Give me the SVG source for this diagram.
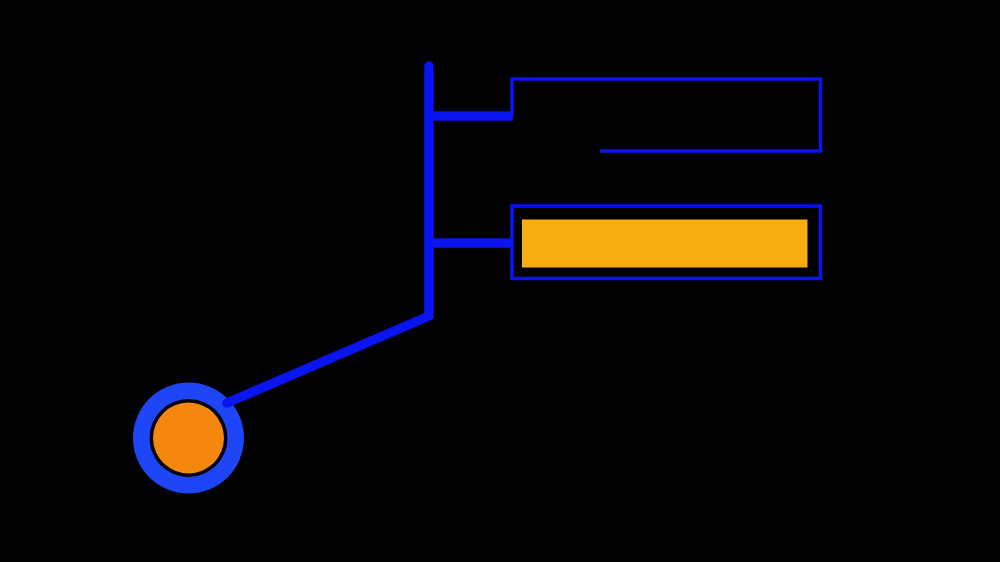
<svg xmlns="http://www.w3.org/2000/svg" width="1000" height="562" viewBox="0 0 1000 562">
  <style>
    .trunk { fill: none; stroke: #0A14F0; stroke-width: 9.5; stroke-linecap: round; stroke-linejoin: round; }
    .branch { fill: none; stroke: #0A14F0; stroke-width: 9.5; stroke-linecap: butt; }
    .thin { fill: none; stroke: #0A14F0; stroke-width: 3.5; stroke-linejoin: miter; }
  </style>
  <rect x="0" y="0" width="1000" height="562" fill="#000000"/>
  <g id="node-circle">
    <circle cx="188.5" cy="438" r="55.5" fill="#1E46F8"/>
    <circle cx="188.5" cy="438" r="39" fill="#000000"/>
    <circle cx="188.5" cy="438" r="35.5" fill="#F5870F"/>
  </g>
  <g id="node-box-top">
    <path class="thin" d="M512,116 L512,79 L820.5,79 L820.5,151 L600,151"/>
  </g>
  <g id="node-box-bottom">
    <rect class="thin" x="512" y="206" width="308.5" height="72.5"/>
    <rect x="522" y="219.5" width="285.5" height="48" fill="#F7AC0F"/>
  </g>
  <g id="connectors">
    <path class="trunk" d="M429,66 L429,316 L227,403"/>
    <path class="branch" d="M429,116 L513,116"/>
    <path class="branch" d="M429,243 L513,243"/>
  </g>
</svg>
